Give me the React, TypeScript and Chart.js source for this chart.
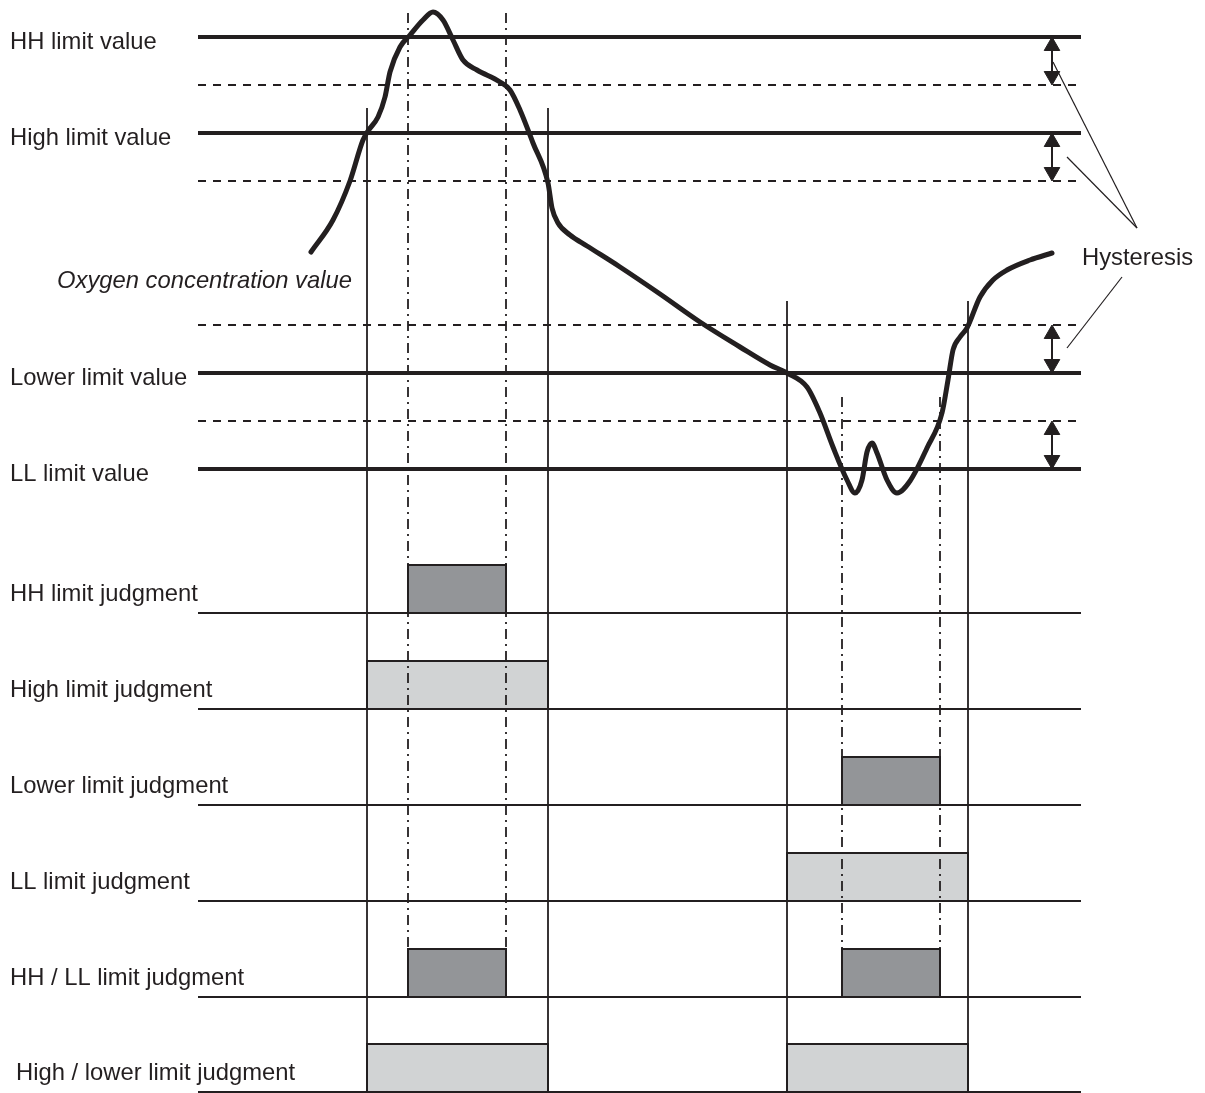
import { useEffect, useRef } from "react";
import { Chart, registerables } from "chart.js";

Chart.register(...registerables);

const W = 1205;
const H = 1093;
const INK = "#231f20";
const DARK = "#939598";
const LIGHT = "#d1d3d4";
const FONT = '23.8px "Liberation Sans", Arial, sans-serif';

// Horizontal level lines (diagram units: x = time, y = level, top = 0)
const levelSpan = [198, 1081];
const limitNames = ["HH limit value", "High limit value", "Lower limit value", "LL limit value"];
const limitLevels = [37, 133, 373, 469];
const hysteresisLevels = [85, 181, 325, 421];

// Oxygen concentration curve
const curveTime = [311, 333, 350, 363, 368, 378, 385, 390, 400, 410, 423, 433, 443, 453, 463, 477, 500, 510, 520, 533, 548, 552, 558, 570, 587, 620, 660, 700, 740, 770, 787, 807, 820, 833, 847, 855, 862, 867, 872, 877, 887, 897, 910, 927, 942, 948, 953, 960, 967, 980, 993, 1007, 1030, 1052];
const curveLevel = [252, 220, 181, 140, 131, 117, 97, 72, 47, 35, 20, 12, 20, 40, 60, 70, 82, 90, 110, 143, 183, 208, 223, 235, 246, 267, 294, 322, 347, 365, 373, 387, 413, 447, 480, 493, 480, 452, 443, 453, 480, 493, 481, 448, 413, 380, 350, 337, 328, 297, 280, 270, 260, 253];

// Event markers
const solidEventTimes = [367, 548, 787, 968];
const solidEventTops = [108, 108, 301, 301];
const solidEventBottom = 1092;
const dashDotEventTimes = [408, 506, 842, 940];
const dashDotEventTops = [13, 13, 397, 397];
const dashDotEventBottom = 997;

// Judgment rows
const judgmentNames = [
  "HH limit judgment",
  "High limit judgment",
  "Lower limit judgment",
  "LL limit judgment",
  "HH / LL limit judgment",
  "High / lower limit judgment",
];
const judgmentBaselines = [613, 709, 805, 901, 997, 1092];
const judgmentStarts = [[408], [367], [842], [787], [408, 842], [367, 787]];
const judgmentEnds = [[506], [548], [940], [968], [506, 940], [548, 968]];
const judgmentShade = ["dark", "light", "dark", "light", "dark", "light"];
const judgmentOnLevel = 48;
const judgmentLabelX = [10, 10, 10, 10, 10, 16];

// Hysteresis annotation
const hysteresisArrowTime = 1052;
const leaderFromX = [1053, 1067, 1067];
const leaderFromY = [62, 157, 348];
const leaderToX = [1137, 1137, 1122];
const leaderToY = [228, 228, 277];
const hysteresisLabel = "Hysteresis";
const hysteresisLabelPos = [1082, 265];
const curveLabel = "Oxygen concentration value";
const curveLabelPos = [57, 288];
const limitLabelX = 10;

function seg(points: { x: number; y: number }[], extra: any = {}) {
  return {
    data: points,
    showLine: true,
    pointRadius: 0,
    borderColor: INK,
    borderWidth: 2,
    fill: false,
    tension: 0,
    clip: false,
    borderJoinStyle: "miter",
    ...extra,
  };
}

function buildDatasets() {
  const ds: any[] = [];
  // curve
  ds.push(
    seg(
      curveTime.map((t, i) => ({ x: t, y: curveLevel[i] })),
      { borderWidth: 5, cubicInterpolationMode: "monotone", borderCapStyle: "round", borderJoinStyle: "round", order: 0 }
    )
  );
  // limit lines
  limitLevels.forEach((v) => {
    ds.push(seg([{ x: levelSpan[0], y: v }, { x: levelSpan[1], y: v }], { borderWidth: 4, order: 1 }));
  });
  hysteresisLevels.forEach((v) => {
    ds.push(seg([{ x: levelSpan[0], y: v }, { x: levelSpan[1], y: v }], { borderWidth: 1.8, borderDash: [8, 7], order: 1 }));
  });
  // judgment baselines
  judgmentBaselines.forEach((v) => {
    ds.push(seg([{ x: levelSpan[0], y: v }, { x: levelSpan[1], y: v }], { borderWidth: 2, order: 1 }));
  });
  // event verticals
  solidEventTimes.forEach((t, i) => {
    ds.push(seg([{ x: t, y: solidEventTops[i] }, { x: t, y: solidEventBottom }], { borderWidth: 1.8, order: 2 }));
  });
  dashDotEventTimes.forEach((t, i) => {
    ds.push(
      seg([{ x: t, y: dashDotEventTops[i] }, { x: t, y: dashDotEventBottom }], {
        borderWidth: 1.8,
        borderDash: [10, 5, 2, 5],
        order: 2,
      })
    );
  });
  // judgment bars
  judgmentBaselines.forEach((base, r) => {
    judgmentStarts[r].forEach((s, k) => {
      const e = judgmentEnds[r][k];
      const top = base - judgmentOnLevel;
      ds.push(
        seg(
          [
            { x: s, y: base },
            { x: s, y: top },
            { x: e, y: top },
            { x: e, y: base },
            { x: s, y: base },
          ],
          {
            borderWidth: 2,
            fill: "shape",
            backgroundColor: judgmentShade[r] === "dark" ? DARK : LIGHT,
            order: 3,
          }
        )
      );
    });
  });
  // hysteresis arrows
  const headR = 9;
  limitLevels.forEach((v, i) => {
    const top = Math.min(v, hysteresisLevels[i]);
    const bot = Math.max(v, hysteresisLevels[i]);
    ds.push(seg([{ x: hysteresisArrowTime, y: top + 4 }, { x: hysteresisArrowTime, y: bot - 4 }], { borderWidth: 2, order: 1 }));
    ds.push({
      data: [
        { x: hysteresisArrowTime, y: top + headR },
        { x: hysteresisArrowTime, y: bot - headR },
      ],
      showLine: false,
      pointStyle: "triangle",
      pointRadius: headR,
      pointRotation: [0, 180],
      pointBackgroundColor: INK,
      pointBorderColor: INK,
      pointBorderWidth: 1,
      clip: false,
      order: 1,
    });
  });
  // leader lines
  leaderFromX.forEach((x0, i) => {
    ds.push(
      seg([{ x: x0, y: leaderFromY[i] }, { x: leaderToX[i], y: leaderToY[i] }], { borderWidth: 1.2, order: 1 })
    );
  });
  return ds;
}

const textPlugin = {
  id: "diagramText",
  afterDatasetsDraw(chart: any) {
    const { ctx } = chart;
    const xs = chart.scales.x;
    const ys = chart.scales.y;
    const px = (v: number) => xs.getPixelForValue(v);
    const py = (v: number) => ys.getPixelForValue(v);
    ctx.save();
    ctx.fillStyle = INK;
    ctx.textBaseline = "alphabetic";
    ctx.textAlign = "left";
    ctx.font = FONT;
    limitNames.forEach((t, i) => ctx.fillText(t, px(limitLabelX), py(limitLevels[i] + 12)));
    judgmentNames.forEach((t, i) => ctx.fillText(t, px(judgmentLabelX[i]), py(judgmentBaselines[i] - 12)));
    ctx.fillText(hysteresisLabel, px(hysteresisLabelPos[0]), py(hysteresisLabelPos[1]));
    ctx.font = "italic " + FONT;
    ctx.fillText(curveLabel, px(curveLabelPos[0]), py(curveLabelPos[1]));
    ctx.restore();
  },
};

export default function App() {
  const ref = useRef<HTMLCanvasElement | null>(null);
  useEffect(() => {
    if (!ref.current) return;
    const chart = new Chart(ref.current, {
      type: "scatter",
      data: { datasets: buildDatasets() },
      options: {
        responsive: false,
        animation: false,
        events: [],
        layout: { padding: 0, autoPadding: false },
        plugins: { legend: { display: false }, tooltip: { enabled: false } },
        scales: {
          x: { type: "linear", min: 0, max: W, display: false },
          y: { type: "linear", min: 0, max: H, reverse: true, display: false },
        },
      },
      plugins: [textPlugin],
    } as any);
    return () => chart.destroy();
  }, []);
  return (
    <div style={{ position: "fixed", left: 0, top: 0, width: W, height: H, background: "#fff" }}>
      <canvas ref={ref} width={W} height={H} style={{ width: W, height: H, display: "block" }} />
    </div>
  );
}
